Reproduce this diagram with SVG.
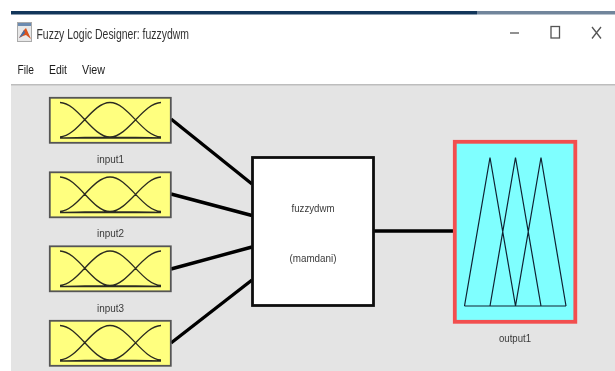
<svg xmlns="http://www.w3.org/2000/svg" width="615" height="371" viewBox="0 0 615 371">
<defs>
<style>
text{font-family:"Liberation Sans",Arial,sans-serif;fill:#333}
.lbl{font-size:11.500px;text-anchor:middle;fill:#3a3a3a}
.menu{font-size:13.500px;fill:#1c1c1c}
.in{fill:#ffff7f;stroke:#555;stroke-width:1.800}
.mf{fill:none;stroke:#2c2c20;stroke-width:1.300}
.wire{stroke:#050505;stroke-width:3.400;fill:none}
.ctl{fill:none;stroke:#555;stroke-width:1.300}
</style>
<filter id="soft" x="-5%" y="-5%" width="110%" height="110%"><feGaussianBlur stdDeviation="0.3"/></filter>
<g id="inbox">
<rect class="in" x="49.800" y="0.800" width="121" height="45"/>
<path class="mf" d="M60 40C78 39 92 5.500 110 5.500C128 5.500 142 39 161 40M60 5.500C78 6 92 40 110 40C125 40.500 145 40.500 161 41M60 41C75 40.500 95 40.500 110 40C128 40 143 6 161 5.500M60 41H161"/>
</g>
</defs>
<rect width="615" height="371" fill="#fff"/>
<rect x="11" y="11" width="466" height="3.500" fill="#12365a"/>
<rect x="477" y="11" width="138" height="3.500" fill="#71859b"/>
<rect x="11" y="85" width="604" height="286" fill="#e4e4e4"/>
<rect x="11" y="84" width="604" height="1.500" fill="#bdbdbd"/>
<g id="titlebar" filter="url(#soft)">
<rect x="17.500" y="22.500" width="14" height="19" fill="#e8e8e8" stroke="#aaa"/>
<rect x="18" y="23" width="13" height="3" fill="#6c8bb0"/>
<path d="M19 38L24 30L26 28L31 39L26 35L23 36Z" fill="#d9531e"/>
<path d="M19 38L24 30L25 33L22 36Z" fill="#3f6fa8"/>
<text x="36.500" y="38.500" font-size="14.500" textLength="152.500" lengthAdjust="spacingAndGlyphs" fill="#2a2a2a">Fuzzy Logic Designer: fuzzydwm</text>
<text class="menu" x="17.500" y="74" textLength="16.500" lengthAdjust="spacingAndGlyphs">File</text>
<text class="menu" x="49" y="74" textLength="18" lengthAdjust="spacingAndGlyphs">Edit</text>
<text class="menu" x="82" y="74" textLength="23" lengthAdjust="spacingAndGlyphs">View</text>
<path class="ctl" d="M510 33H519"/>
<rect class="ctl" x="551" y="26.500" width="8.500" height="11.500"/>
<path class="ctl" d="M592 27L601 38.500M601 27L592 38.500"/>
</g>
<g id="connectors" filter="url(#soft)">
<path class="wire" d="M171 119L252 184"/>
<path class="wire" d="M171 194L252 215.500"/>
<path class="wire" d="M171 269L252 247"/>
<path class="wire" d="M171 343L252 280"/>
<path class="wire" d="M373 231H453"/>
</g>
<g id="input1" filter="url(#soft)">
<use href="#inbox" y="97"/>
<text class="lbl" x="110.500" y="162.500" textLength="27" lengthAdjust="spacingAndGlyphs">input1</text>
</g>
<g id="input2" filter="url(#soft)">
<use href="#inbox" y="171.500"/>
<text class="lbl" x="110.500" y="237" textLength="27" lengthAdjust="spacingAndGlyphs">input2</text>
</g>
<g id="input3" filter="url(#soft)">
<use href="#inbox" y="245.500"/>
<text class="lbl" x="110.500" y="311.500" textLength="27" lengthAdjust="spacingAndGlyphs">input3</text>
</g>
<g id="input4" filter="url(#soft)">
<use href="#inbox" y="320"/>
</g>
<g id="fuzzydwm" filter="url(#soft)">
<rect x="252.500" y="157.500" width="121" height="148" fill="#fff" stroke="#111" stroke-width="2.800"/>
<text class="lbl" x="313" y="211.500" textLength="43" lengthAdjust="spacingAndGlyphs">fuzzydwm</text>
<text class="lbl" x="313" y="261.500" textLength="47" lengthAdjust="spacingAndGlyphs">(mamdani)</text>
</g>
<g id="output1" filter="url(#soft)">
<rect x="454.800" y="141.800" width="120.500" height="180" fill="#7fffff" stroke="#f24f4f" stroke-width="3.800"/>
<path d="M464.500 306H566M464.500 306L490 157.500L515.500 306M490 306L515.500 157.500L541 306M515.500 306L541 157.500L566 306" fill="none" stroke="#123" stroke-width="1.200"/>
<text class="lbl" x="515" y="341.500" textLength="32" lengthAdjust="spacingAndGlyphs">output1</text>
</g>
</svg>
